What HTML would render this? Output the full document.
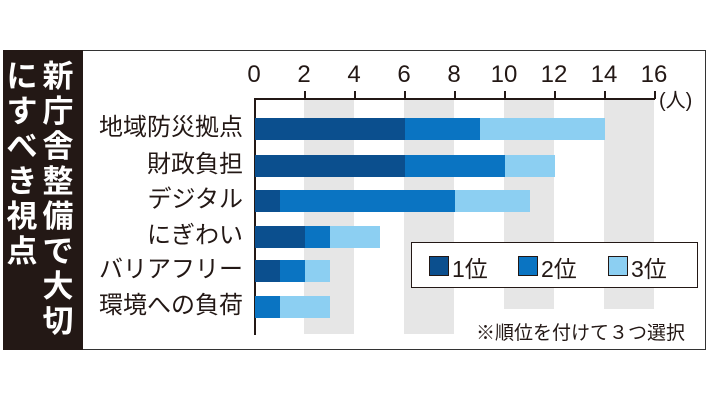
<!DOCTYPE html>
<html><head><meta charset="utf-8"><style>
body{margin:0;background:#fff;width:709px;height:400px;position:relative;overflow:hidden;font-family:"Liberation Sans","Noto Sans CJK JP",sans-serif;}
.a{position:absolute}
.c{position:absolute;width:36px;text-align:center;font-size:31px;line-height:35px;color:#fff;font-weight:bold}
.lab{position:absolute;right:466px;font-size:24px;line-height:22px;color:#231815;white-space:nowrap}
.t{position:absolute;top:62px;font-size:24px;line-height:26px;width:40px;margin-left:-20px;text-align:center;color:#231815}
</style></head><body>
<div class="a" style="left:3px;top:50px;width:701px;height:298px;border:1.5px solid #333;"></div>
<div class="a" style="left:3px;top:50px;width:80px;height:300px;background:#231815;"></div>
<div id="cols"></div>
<div class="a" style="left:304px;top:99px;width:50px;height:235px;background:#e6e6e6"></div>
<div class="a" style="left:404px;top:99px;width:50px;height:235px;background:#e6e6e6"></div>
<div class="a" style="left:504px;top:99px;width:50px;height:210px;background:#e6e6e6"></div>
<div class="a" style="left:604px;top:99px;width:50px;height:210px;background:#e6e6e6"></div>
<div class="a" style="left:254px;top:98px;width:401px;height:1.5px;background:#231815"></div>
<div class="a" style="left:254px;top:98px;width:1.5px;height:237px;background:#231815"></div>
<div id="ticks"></div>
<div class="a" style="left:659px;top:84px;font-size:20px;color:#231815">(人)</div>
<div id="bars"></div>
<div class="a" style="left:411px;top:242px;width:285px;height:44px;border:1.5px solid #231815;background:#fff"></div>
<div class="a" style="left:429px;top:256px;width:18px;height:18px;background:#0b4f8e;border:1px solid #231815"></div>
<div class="a" style="left:452px;top:250px;font-size:23px;color:#231815">1位</div>
<div class="a" style="left:518px;top:256px;width:18px;height:18px;background:#0a74c2;border:1px solid #231815"></div>
<div class="a" style="left:541px;top:250px;font-size:23px;color:#231815">2位</div>
<div class="a" style="left:608px;top:256px;width:18px;height:18px;background:#8ccff2;border:1px solid #231815"></div>
<div class="a" style="left:631px;top:250px;font-size:23px;color:#231815">3位</div>
<div class="a" style="right:24px;top:318px;font-size:19px;color:#231815">※順位を付けて３つ選択</div>
<script>
var s='';
var r='新庁舎整備で大切',l='にすべき視点';
for(var i=0;i<r.length;i++)s+='<div class="c" style="left:40px;top:'+(59+i*35)+'px">'+r[i]+'</div>';
for(var i=0;i<l.length;i++)s+='<div class="c" style="left:4px;top:'+(59+i*35)+'px">'+l[i]+'</div>';
document.getElementById('cols').innerHTML=s;
s='';
for(var v=0;v<=16;v+=2){var x=254+v*25;s+='<div class="t" style="left:'+x+'px">'+v+'</div>';if(v>0)s+='<div class="a" style="left:'+x+'px;top:91px;width:1.5px;height:8px;background:#231815"></div>';}
document.getElementById('ticks').innerHTML=s;
var d=[['地域防災拠点',6,3,5,118],['財政負担',6,4,2,155],['デジタル',1,7,3,190],['にぎわい',2,1,2,226],['バリアフリー',1,1,1,260],['環境への負荷',0,1,2,296]];
var c=['#0b4f8e','#0a74c2','#8ccff2'];s='';
d.forEach(function(e){var x=255;for(var k=0;k<3;k++){var w=e[k+1]*25;if(w)s+='<div class="a" style="left:'+x+'px;top:'+e[4]+'px;width:'+w+'px;height:22px;background:'+c[k]+'"></div>';x+=w;}
s+='<div class="lab" style="top:'+(e[4]-1)+'px">'+e[0]+'</div>';});
document.getElementById('bars').innerHTML=s;
</script>
</body></html>
